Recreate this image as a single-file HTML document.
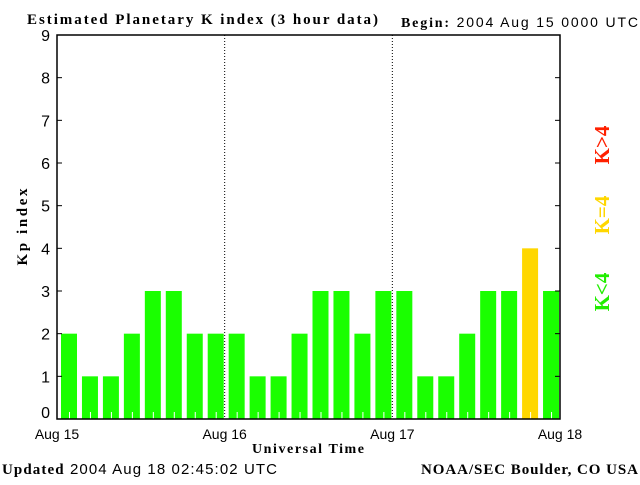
<!DOCTYPE html>
<html><head><meta charset="utf-8"><style>
body{margin:0;background:#fff;width:640px;height:480px;overflow:hidden}
svg text{font-family:"Liberation Sans",sans-serif}
.serif{font-family:"Liberation Serif",serif;font-weight:bold}
</style></head><body>
<svg id="chart" width="640" height="480" xmlns="http://www.w3.org/2000/svg">
<text class="serif" x="27" y="24" font-size="15" textLength="351" lengthAdjust="spacing">Estimated Planetary K index (3 hour data)</text>
<text x="401" y="27" font-size="14" textLength="237" lengthAdjust="spacing"><tspan style="font-family:'Liberation Serif',serif;font-weight:bold">Begin:</tspan> 2004 Aug 15 0000 UTC</text>
<text class="serif" x="27" y="227" font-size="15" textLength="77" lengthAdjust="spacing" transform="rotate(-90 27 227)" text-anchor="middle">Kp index</text>
<text class="serif" x="308" y="453" font-size="14" textLength="112" lengthAdjust="spacing" text-anchor="middle">Universal Time</text>
<text x="2" y="474" font-size="15" textLength="275" lengthAdjust="spacing"><tspan style="font-family:'Liberation Serif',serif;font-weight:bold">Updated</tspan> 2004 Aug 18 02:45:02 UTC</text>
<text class="serif" x="421" y="474" font-size="15" textLength="217" lengthAdjust="spacing">NOAA/SEC Boulder, CO USA</text>
<text class="serif" x="609" y="145" font-size="21" fill="#ff2000" text-anchor="middle" transform="rotate(-90 609 145)">K&gt;4</text>
<text class="serif" x="609" y="215" font-size="21" fill="#ffd700" text-anchor="middle" transform="rotate(-90 609 215)">K=4</text>
<text class="serif" x="609" y="292" font-size="21" fill="#22ee00" text-anchor="middle" transform="rotate(-90 609 292)">K&lt;4</text>
<g id="plot"></g>
</svg>
<script>
const kpValues=[2,1,1,2,3,3,2,2, 2,1,1,2,3,3,2,3, 3,1,1,2,3,3,4,3];
const yTicks=[0,1,2,3,4,5,6,7,8,9];
const dayLabels=["Aug 15","Aug 16","Aug 17","Aug 18"];
const L=57,R=560,T=35,B=419;
const ns="http://www.w3.org/2000/svg";
const g=document.getElementById('plot');
function y(v){return B-(v/9)*(B-T);}
const slot=(R-L)/kpValues.length;
function x(i){return L+i*slot;}
function mk(t,a){const e=document.createElementNS(ns,t);for(const k in a)e.setAttribute(k,a[k]);g.appendChild(e);return e;}
kpValues.forEach((v,i)=>{
  const col=v>4?'#ff2000':(v===4?'#ffd700':'#1aff00');
  const r=mk('rect',{x:x(i)+4,y:y(v),width:16,height:B-y(v),fill:col});
  
  
  const t=mk('line',{x1:x(i)+12.5,x2:x(i)+12.5,y1:B-7,y2:B,stroke:'#fff'});
  
  
});
[1,2].forEach(d=>{
  const xx=L+d*(R-L)/3;
  const l=mk('line',{x1:xx,x2:xx,y1:T,y2:B,stroke:'#000','stroke-dasharray':'1,2'});
  
  
});
const fr=mk('rect',{x:L,y:T,width:R-L,height:B-T,fill:'none',stroke:'#000','stroke-width':1.5});


yTicks.forEach(v=>{
  const yy=y(v);
  mk('line',{x1:L,x2:L+5,y1:yy,y2:yy,stroke:'#000'});
  mk('line',{x1:R-5,x2:R,y1:yy,y2:yy,stroke:'#000'});
  const t=mk('text',{x:50,y:(v===0?yy-1:yy+6),'font-size':16,'text-anchor':'end'});
  t.textContent=v;
  
  
});
dayLabels.forEach((d,i)=>{
  const t=mk('text',{x:L+i*(R-L)/3,y:439,'font-size':14,'text-anchor':'middle'});
  t.textContent=d;
  
  
});
</script>
</body></html>
